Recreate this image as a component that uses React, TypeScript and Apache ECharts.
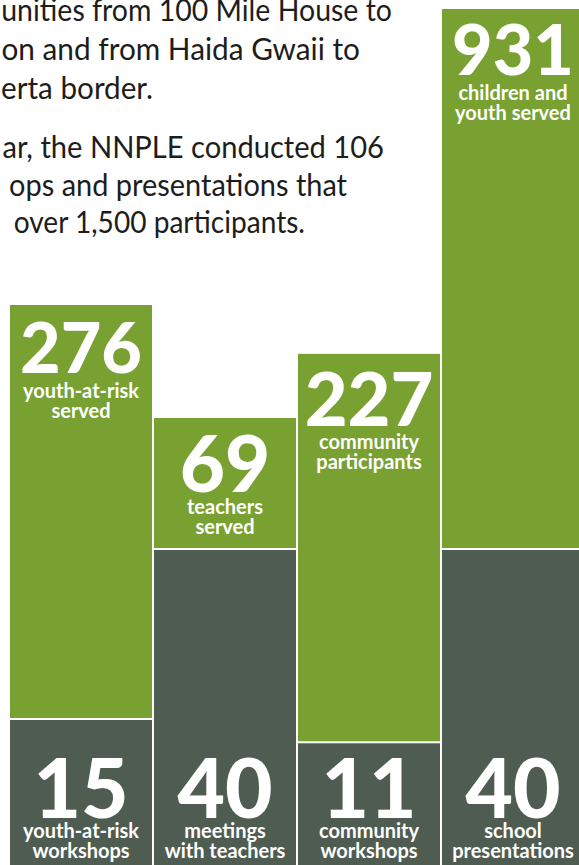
import React, { useEffect, useRef } from "react";
import * as echarts from "echarts";

// ---- data ----
const categories = ["Youth-at-risk", "Teachers", "Community", "Schools"];
// drawn bar heights on a hidden 0–875 value scale (the infographic is not to scale)
const servedBarHeight = [415, 132, 389.5, 541];
const activityBarHeight = [156, 326, 132.7, 326];
const servedCounts = ["276", "69", "227", "931"];
const servedCaptions = [
  ["youth-at-risk", "served"],
  ["teachers", "served"],
  ["community", "participants"],
  ["children and", "youth served"],
];
const activityCounts = ["15", "40", "11", "40"];
const activityCaptions = [
  ["youth-at-risk", "workshops"],
  ["meetings", "with teachers"],
  ["community", "workshops"],
  ["school", "presentations"],
];
// the intro paragraph is cut by the left edge of the picture; only its visible part is kept
const introLines = [
  "unities from 100 Mile House to",
  "on and from Haida Gwaii to",
  "erta border.",
  "ar, the NNPLE conducted 106",
  "ops and presentations that",
  "over 1,500 participants.",
];

// ---- styles ----
const GREEN = "#79a132";
const DARK = "#4f5c52";
const FONT = "Lato, 'Open Sans', sans-serif";
const servedNumberSize = [70, 78, 74, 70];
const servedLabelDistance = [7.9, 10.5, 10.4, 5.9];
const activityNumberSize = 82;
const activityLabelDistance = 14.7;
const introLeft = [1, 1, 1, 2, 9, 13];
const introRight = [392, 360, 153, 384, 347, 305];
const introBaseline = [21, 60, 99, 158, 196, 233];
const INTRO_SIZE = 30;

function fitScale(text: string, font: string, target: number): number {
  try {
    const ctx = document.createElement("canvas").getContext("2d");
    if (!ctx) return 1;
    ctx.font = font;
    const w = ctx.measureText(text).width;
    if (!w) return 1;
    return Math.max(0.9, Math.min(1.1, target / w));
  } catch (e) {
    return 1;
  }
}

export default function App() {
  const ref = useRef<HTMLDivElement>(null);
  useEffect(() => {
    if (!ref.current) return;
    document.body.style.margin = "0";
    const chart = echarts.init(ref.current, undefined, { renderer: "svg" });

    const richFor = (numSize: number) => ({
      n: {
        fontFamily: FONT,
        fontWeight: 900,
        fontSize: numSize,
        lineHeight: 68,
        color: "#ffffff",
      },
      t: {
        fontFamily: FONT,
        fontWeight: 700,
        fontSize: 20,
        lineHeight: 20,
        color: "#ffffff",
      },
    });

    const introFont = `400 ${INTRO_SIZE}px ${FONT}`;

    const option: any = {
      animation: false,
      backgroundColor: "#ffffff",
      grid: {
        left: 9,
        right: -6,
        top: 0,
        bottom: -10,
        containLabel: false,
        outerBoundsMode: "none",
      },
      xAxis: { type: "category", data: categories, show: false },
      yAxis: { type: "value", min: 0, max: 875, show: false },
      graphic: introLines.map((line, i) => ({
        type: "text",
        x: introRight[i],
        y: introBaseline[i] - 0.387 * INTRO_SIZE,
        scaleX: fitScale(line, introFont, introRight[i] - introLeft[i]),
        silent: true,
        style: {
          text: line,
          fill: "#1d1d1b",
          font: introFont,
          align: "right",
          verticalAlign: "middle",
        },
      })),
      series: [
        {
          type: "bar",
          stack: "total",
          barCategoryGap: "0%",
          itemStyle: { color: DARK, borderColor: "#ffffff", borderWidth: 1 },
          data: activityBarHeight.map((v, i) => ({
            value: v,
            label: {
              show: true,
              position: "insideBottom",
              distance: activityLabelDistance,
              align: "center",
              formatter: `{n|${activityCounts[i]}}\n{t|${activityCaptions[i][0]}}\n{t|${activityCaptions[i][1]}}`,
              rich: richFor(activityNumberSize),
            },
          })),
        },
        {
          type: "bar",
          stack: "total",
          barCategoryGap: "0%",
          itemStyle: { color: GREEN, borderColor: "#ffffff", borderWidth: 1 },
          data: servedBarHeight.map((v, i) => ({
            value: v,
            label: {
              show: true,
              position: "insideTop",
              distance: servedLabelDistance[i],
              align: "center",
              formatter: `{n|${servedCounts[i]}}\n{t|${servedCaptions[i][0]}}\n{t|${servedCaptions[i][1]}}`,
              rich: richFor(servedNumberSize[i]),
            },
          })),
        },
      ],
    };
    chart.setOption(option);
    return () => chart.dispose();
  }, []);

  return (
    <div
      ref={ref}
      style={{ position: "absolute", left: 0, top: 0, width: 579, height: 865, overflow: "hidden" }}
    />
  );
}
